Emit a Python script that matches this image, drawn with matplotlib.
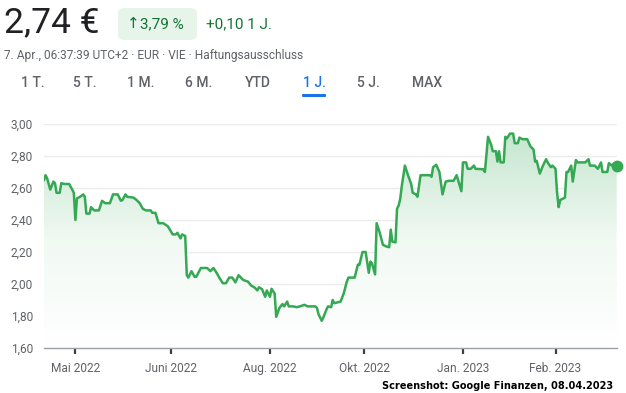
import numpy as np
import matplotlib.pyplot as plt
from matplotlib import font_manager
from matplotlib.patches import FancyBboxPatch
from matplotlib.colors import LinearSegmentedColormap

# Share price over one year (calendar days since 7 Apr 2022, price in EUR)
days = [0, 1, 2, 4, 6, 7, 8, 10, 11, 13, 16, 18, 19, 20, 21, 23, 25, 26, 27, 29,
        30, 32, 35, 37, 39, 42, 44, 47, 49, 50, 52, 53, 57, 59, 61, 63, 65, 68, 69, 71,
        73, 76, 79, 82, 84, 85, 87, 88, 90, 91, 92, 94, 96, 97, 100, 104, 106, 108, 110, 112,
        114, 116, 118, 120, 122, 124, 127, 130, 132, 134, 136, 137, 139, 141, 142, 144, 145, 147, 148, 150,
        152, 153, 155, 156, 159, 161, 163, 166, 168, 173, 174, 175, 177, 178, 180, 181, 183, 184, 185, 187,
        189, 191, 193, 194, 198, 200, 201, 203, 205, 207, 208, 209, 211, 212, 214, 216, 218, 220, 221, 222,
        224, 225, 226, 227, 228, 230, 232, 234, 235, 237, 238, 240, 246, 247, 248, 250, 252, 254, 256, 258,
        261, 263, 266, 267, 269, 270, 272, 274, 275, 280, 281, 283, 285, 286, 288, 289, 290, 291, 293, 294,
        295, 297, 299, 300, 302, 303, 305, 308, 310, 312, 313, 314, 316, 318, 320, 321, 323, 324, 326, 327,
        328, 329, 331, 332, 333, 334, 336, 337, 339, 340, 345, 347, 348, 351, 353, 355, 356, 359, 360, 362,
        363, 365]
prices = [2.65, 2.68, 2.66, 2.59, 2.64, 2.63, 2.57, 2.57, 2.63, 2.625, 2.625, 2.59, 2.57, 2.40, 2.535, 2.545, 2.56, 2.545, 2.44, 2.44,
          2.48, 2.46, 2.46, 2.52, 2.505, 2.505, 2.56, 2.56, 2.52, 2.525, 2.56, 2.545, 2.54, 2.525, 2.505, 2.47, 2.46, 2.46, 2.445, 2.445,
          2.38, 2.38, 2.36, 2.31, 2.31, 2.32, 2.285, 2.31, 2.30, 2.056, 2.04, 2.08, 2.045, 2.045, 2.10, 2.10, 2.08, 2.10, 2.07, 2.035,
          2.005, 2.005, 2.04, 2.04, 2.01, 2.055, 2.025, 2.015, 1.99, 1.98, 1.96, 1.98, 1.967, 1.92, 1.96, 1.92, 1.97, 1.94, 1.795, 1.85,
          1.875, 1.86, 1.89, 1.86, 1.86, 1.855, 1.86, 1.87, 1.86, 1.86, 1.85, 1.81, 1.77, 1.79, 1.84, 1.86, 1.855, 1.90, 1.88, 1.885,
          1.89, 1.94, 2.015, 2.04, 2.04, 2.12, 2.12, 2.20, 2.20, 2.07, 2.14, 2.13, 2.06, 2.38, 2.32, 2.245, 2.235, 2.23, 2.34, 2.265,
          2.26, 2.47, 2.49, 2.53, 2.61, 2.74, 2.68, 2.625, 2.57, 2.56, 2.545, 2.68, 2.68, 2.67, 2.73, 2.745, 2.70, 2.56, 2.64, 2.645,
          2.645, 2.68, 2.58, 2.76, 2.76, 2.72, 2.72, 2.74, 2.72, 2.717, 2.70, 2.92, 2.87, 2.83, 2.83, 2.765, 2.83, 2.76, 2.76, 2.92,
          2.91, 2.94, 2.94, 2.88, 2.88, 2.915, 2.905, 2.905, 2.86, 2.84, 2.765, 2.77, 2.69, 2.74, 2.78, 2.76, 2.73, 2.74, 2.72, 2.57,
          2.48, 2.525, 2.535, 2.54, 2.70, 2.70, 2.74, 2.64, 2.775, 2.76, 2.76, 2.78, 2.74, 2.74, 2.72, 2.76, 2.70, 2.70, 2.755, 2.74,
          2.75, 2.74]

tick_days = [20, 81, 144, 204, 267, 326]
tick_labels = ["Mai 2022", "Juni 2022", "Aug. 2022", "Okt. 2022", "Jan. 2023", "Feb. 2023"]
y_ticks = [1.6, 1.8, 2.0, 2.2, 2.4, 2.6, 2.8, 3.0]
tabs = ["1 T.", "5 T.", "1 M.", "6 M.", "YTD", "1 J.", "5 J.", "MAX"]

plt.rcParams['font.family'] = ['Roboto', 'DejaVu Sans']
grey = "#5f6368"
green = "#34a853"
dark_green = "#137333"

# look for a narrow bold face for the screenshot credit
narrow = None
for f in font_manager.fontManager.ttflist:
    name = f.name.lower()
    if ("narrow" in name or "condensed" in name or f.stretch in ("condensed", "semi-condensed")) \
            and f.weight in (700, "bold"):
        narrow = f.fname
        break

W, H = 626, 393
fig = plt.figure(figsize=(W / 100, H / 100), dpi=100)

def fx(px):
    return px / W

def fy(py):
    return 1 - py / H

# header
fig.text(fx(4), fy(23), "2,74 €", fontsize=25.5, color="#202124", va="center", ha="left")
badge = FancyBboxPatch((fx(118), fy(40)), fx(79), 32 / H,
                       boxstyle="round,pad=0,rounding_size=0.012",
                       transform=fig.transFigure, facecolor="#e6f4ea", edgecolor="none")
fig.patches.append(badge)
fig.text(fx(127), fy(24), "↑", fontsize=11, color=dark_green, va="center", ha="left",
         family="DejaVu Sans")
fig.text(fx(140), fy(24), "3,79 %", fontsize=11, color=dark_green, va="center", ha="left")
fig.text(fx(206), fy(24), "+0,10 1 J.", fontsize=11, color=dark_green, va="center", ha="left")
fig.text(fx(4), fy(56), "7. Apr., 06:37:39 UTC+2 · EUR · VIE · Haftungsausschluss",
         fontsize=8.6, color=grey, va="center", ha="left")

tab_x = [21, 73, 127, 185, 245, 303, 357, 412]
for x, t in zip(tab_x, tabs):
    c = "#1a73e8" if t == "1 J." else grey
    fig.text(fx(x), fy(83), t, fontsize=10, color=c, va="center", ha="left", fontweight="medium")
underline = FancyBboxPatch((fx(302), fy(97)), fx(24), 3 / H,
                           boxstyle="round,pad=0,rounding_size=0.002",
                           transform=fig.transFigure, facecolor="#1a73e8", edgecolor="none")
fig.patches.append(underline)

# chart
ax = fig.add_axes([fx(44), fy(348), fx(616.7 - 44), (348 - 124) / H])
ax.set_xlim(0, 365)
ax.set_ylim(1.6, 3.0)

ax.plot(days, prices, color=green, lw=1.8, solid_joinstyle="round", zorder=3)
poly = ax.fill_between(days, prices, 1.6, color="none")
cmap = LinearSegmentedColormap.from_list("g", ["#ffffff", "#f1f9f3", "#c6e6cf"])
grad = np.linspace(0, 1, 256).reshape(-1, 1)
img = ax.imshow(grad, extent=[0, 365, 1.6, max(prices)], origin="lower", aspect="auto",
                cmap=cmap, zorder=1)
img.set_clip_path(poly.get_paths()[0], transform=ax.transData)
ax.plot(days[-1], prices[-1], "o", color=green, ms=7.5, clip_on=False, zorder=4)

ax.set_yticks(y_ticks)
ax.set_yticklabels([f"{v:.2f}".replace(".", ",") for v in y_ticks])
ax.set_xticks(tick_days)
ax.set_xticklabels(tick_labels)
ax.grid(axis="y", color="#ebebeb", lw=1)
ax.set_axisbelow(True)
for s in ["top", "right", "left"]:
    ax.spines[s].set_visible(False)
ax.spines["bottom"].set_color("#9aa0a6")
ax.spines["bottom"].set_linewidth(1)
ax.tick_params(axis="y", length=0, pad=8, labelsize=8.6, labelcolor=grey)
ax.tick_params(axis="x", length=4, width=1.6, color="#3c4043", pad=6,
               labelsize=8.6, labelcolor=grey)

credit = "Screenshot: Google Finanzen, 08.04.2023"
if narrow:
    fig.text(fx(613), fy(386), credit, color="black", ha="right", va="center",
             fontproperties=font_manager.FontProperties(fname=narrow, size=7.8))
else:
    fig.text(fx(613), fy(386), credit, fontsize=7.4, fontweight="bold", color="black",
             ha="right", va="center", family="Liberation Sans")

fig.savefig("out.png", dpi=100)
